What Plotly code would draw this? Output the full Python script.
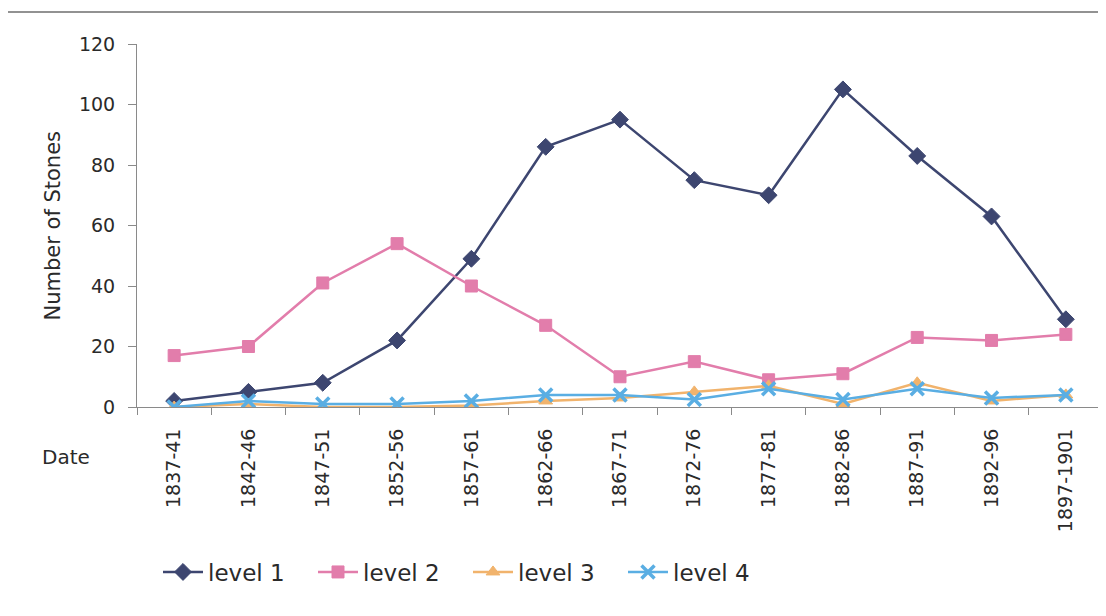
import plotly.graph_objects as go

categories = ["1837-41", "1842-46", "1847-51", "1852-56", "1857-61", "1862-66", "1867-71",
              "1872-76", "1877-81", "1882-86", "1887-91", "1892-96", "1897-1901"]
level1 = [2, 5, 8, 22, 49, 86, 95, 75, 70, 105, 83, 63, 29]
level2 = [17, 20, 41, 54, 40, 27, 10, 15, 9, 11, 23, 22, 24]
level3 = [0, 1, 0, 0, 0.5, 2, 3, 5, 7, 1, 8, 2, 4]
level4 = [0, 2, 1, 1, 2, 4, 4, 2.5, 6, 2.5, 6, 3, 4]
y_ticks = [0, 20, 40, 60, 80, 100, 120]

FONT = "DejaVu Sans, Liberation Sans, sans-serif"
W, H = 1098, 608
ML, MR, MT, MB = 129, 3, 36, 209
PW, PH = W - ML - MR, H - MT - MB

fig = go.Figure()
series = [
    ("level 1", level1, "#3d4670", "diamond", 13),
    ("level 2", level2, "#e27dab", "square", 12),
    ("level 3", level3, "#f1b36c", "triangle-up", 12),
    ("level 4", level4, "#5aaee3", "x-thin", 13),
]
for name, vals, color, sym, size in series:
    marker = dict(symbol=sym, size=size, color=color)
    if sym == "x-thin":
        marker["line"] = dict(color=color, width=3.5)
    else:
        marker["line"] = dict(color=color, width=1)
    fig.add_trace(go.Scatter(x=categories, y=vals, name=name, mode="lines+markers",
                             line=dict(color=color, width=2.5), marker=marker))

fig.update_layout(
    width=W, height=H,
    margin=dict(l=ML, r=MR, t=MT, b=MB),
    paper_bgcolor="white", plot_bgcolor="white",
    font=dict(family=FONT, color="#2a2a2a"),
    showlegend=True,
    legend=dict(orientation="h", x=(150 - ML) / PW, xanchor="left",
                y=-165 / PH, yanchor="middle",
                font=dict(size=23, color="#2a2a2a"), itemwidth=40,
                entrywidth=100, entrywidthmode="pixels", tracegroupgap=0),
    xaxis=dict(type="category", showgrid=False, showline=True, linecolor="#8a8a8a", linewidth=1,
               ticks="outside", tickson="boundaries", ticklen=7, tickcolor="#8a8a8a",
               tickangle=-90, tickfont=dict(size=19, color="#2a2a2a"),
               ticklabelstandoff=13, range=[-0.5, 12.5]),
    yaxis=dict(range=[0, 120], tickvals=y_ticks, showgrid=False, showline=True, linecolor="#8a8a8a",
               linewidth=1, ticks="outside", ticklen=8, tickcolor="#8a8a8a", zeroline=False,
               tickfont=dict(size=19, color="#2a2a2a"), ticklabelstandoff=9),
    annotations=[
        dict(text="Number of Stones", x=(44 - ML) / PW, xref="paper", y=0.5, yref="paper",
             textangle=-90, showarrow=False, font=dict(size=21, color="#2a2a2a"),
             xanchor="center", yanchor="middle"),
        dict(text="Date", x=(58 - ML) / PW, xref="paper", y=(PH + MT - 449) / PH, yref="paper",
             showarrow=False, font=dict(size=20, color="#2a2a2a"),
             xanchor="center", yanchor="middle"),
    ],
    shapes=[dict(type="line", xref="paper", yref="paper", x0=-ML / PW, x1=1 + MR / PW,
                 y0=(PH + MT - 4) / PH, y1=(PH + MT - 4) / PH,
                 line=dict(color="#6e6e6e", width=1.5))],
)
fig.write_html("out.html")
